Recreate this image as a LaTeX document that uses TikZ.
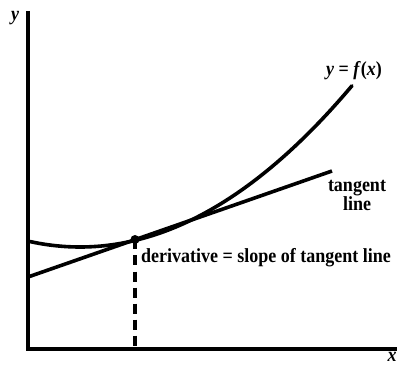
\documentclass[tikz,border=0pt]{standalone}
\usepackage{fontspec}
\setmainfont{Liberation Serif}
\newfontfamily\lblfont[FakeStretch=0.9]{Liberation Serif}
\begin{document}
\begin{tikzpicture}[x=1pt,y=-1pt,
  axisline/.style={line width=3.4pt},
  curveline/.style={line width=3.6pt},
  dashline/.style={line width=3.2pt, dash pattern=on 10pt off 6pt},
  lbl/.style={font=\lblfont\bfseries\fontsize{20}{21}\selectfont, inner sep=0pt}]
\useasboundingbox (0,0) rectangle (399,366);
% axes
\coordinate (O) at (28,349);
\coordinate (Ytop) at (28,11);
\coordinate (Xend) at (397,349);
\draw[axisline] (Ytop) -- (O) -- (Xend);
\node[lbl, anchor=center] (ylab) at (15,18) {\itshape y};
\node[lbl, anchor=center] (xlab) at (392,357) {\itshape x};
% curve
\coordinate (P) at (135,239.5);
\draw[curveline, line cap=round] plot[domain=-0.5:2.72, samples=60, smooth, variable=\v]
  ({80+100*\v}, {247-21.8*\v*\v});
% tangent
\coordinate (T1) at (28,277);
\coordinate (T2) at (332,171);
\draw[curveline] (T1) -- (T2);
% dashed drop
\draw[dashline] (P) -- (P |- O);
\fill (P) circle (4.5);
% labels
\node[lbl, anchor=center] (flab) at (354,71) {\itshape y\upshape{ = }\itshape f\/\upshape(\itshape x\/\upshape)};
\node[lbl, anchor=center, align=center] (tlab) at (357,195) {tangent\\[-2pt]line};
\node[lbl, anchor=west] (dlab) at (141,258) {derivative = slope of tangent line};
\end{tikzpicture}
\end{document}
